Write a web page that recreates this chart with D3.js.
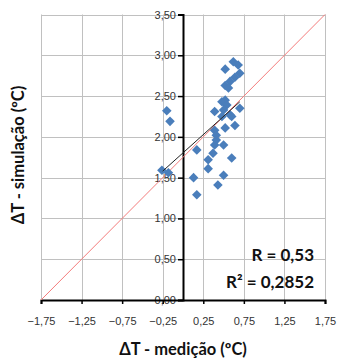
<!DOCTYPE html>
<html>
<head>
<meta charset="utf-8">
<script src="https://cdn.jsdelivr.net/npm/d3@7"></script>
<style>
  html, body { margin: 0; padding: 0; background: #fff; }
  svg { display: block; }
</style>
</head>
<body>
<svg id="chart" width="338" height="358"></svg>
<script>
// Measured vs simulated temperature differences (ºC)
const measured = [
  -0.20, -0.16, -0.26, -0.18, 0.13, 0.17, 0.17, 0.52, 0.62, 0.68,
  0.70, 0.64, 0.58, 0.52, 0.56, 0.52, 0.48, 0.54, 0.39, 0.50,
  0.48, 0.58, 0.70, 0.60, 0.64, 0.52, 0.39, 0.41, 0.41, 0.50,
  0.39, 0.37, 0.60, 0.31, 0.31, 0.50, 0.43
];
const simulated = [
  2.32, 2.19, 1.59, 1.56, 1.50, 1.29, 1.84, 2.83, 2.92, 2.88,
  2.78, 2.73, 2.68, 2.63, 2.60, 2.45, 2.43, 2.39, 2.31, 2.33,
  2.25, 2.27, 2.35, 2.25, 2.14, 2.11, 2.08, 2.02, 1.96, 1.90,
  1.90, 1.80, 1.74, 1.72, 1.61, 1.53, 1.41
];
const xTicks = [-1.75, -1.25, -0.75, -0.25, 0.25, 0.75, 1.25, 1.75];
const yTicks = [0, 0.5, 1.0, 1.5, 2.0, 2.5, 3.0, 3.5];
const identityLine = [[-1.75, 0], [1.75, 3.5]];
const trendLine = [[-0.25, 1.58], [0.70, 2.43]];
const statLines = ["R = 0,53", "R² = 0,2852"];

const fmt = v => d3.format(".2f")(v).replace(".", ",");

const svg = d3.select("#chart");
const x = d3.scaleLinear().domain([-1.75, 1.75]).range([41, 325]);
const y = d3.scaleLinear().domain([0, 3.5]).range([300, 14.5]);

// gridlines
const grid = svg.append("g");
grid.selectAll("line.v").data(xTicks).join("line")
  .attr("x1", d => Math.round(x(d)) + 0.5).attr("x2", d => Math.round(x(d)) + 0.5)
  .attr("y1", y(3.5)).attr("y2", y(0))
  .attr("stroke", "#c0c0c0").attr("stroke-width", 1);
grid.selectAll("line.h").data(yTicks).join("line")
  .attr("y1", d => Math.round(y(d)) + 0.5).attr("y2", d => Math.round(y(d)) + 0.5)
  .attr("x1", x(-1.75)).attr("x2", x(1.75))
  .attr("stroke", "#c0c0c0").attr("stroke-width", 1);

// y axis through x = 0
const yAxis = d3.axisLeft(y).tickValues(yTicks).tickFormat(fmt).tickSize(5).tickPadding(2);
const gy = svg.append("g").attr("transform", `translate(${x(0)},0)`).call(yAxis);
gy.select(".domain").attr("stroke", "#000").attr("stroke-width", 2);
gy.selectAll(".tick line").attr("stroke", "#000").attr("stroke-width", 1.5);
gy.selectAll(".tick text").attr("font-family", "Liberation Sans, Arial, sans-serif")
  .attr("font-size", 11).attr("fill", "#333");

// x axis along y = 0
const xAxis = d3.axisBottom(x).tickValues(xTicks).tickFormat(fmt).tickSize(4).tickPadding(13);
const gx = svg.append("g").attr("transform", `translate(0,${y(0)})`).call(xAxis);
gx.select(".domain").attr("stroke", "#000").attr("stroke-width", 2);
gx.selectAll(".tick line").attr("stroke", "#000").attr("stroke-width", 1.5);
gx.selectAll(".tick text").attr("font-family", "Liberation Sans, Arial, sans-serif")
  .attr("font-size", 11).attr("fill", "#333");

// 1:1 reference line
const line = d3.line().x(d => x(d[0])).y(d => y(d[1]));
svg.append("path").datum(identityLine).attr("d", line)
  .attr("fill", "none").attr("stroke", "#f47c7c").attr("stroke-width", 1);

// points
const sym = d3.symbol().type(d3.symbolSquare).size(46);
svg.append("g").selectAll("path").data(measured.map((m, i) => [m, simulated[i]])).join("path")
  .attr("d", sym)
  .attr("transform", d => `translate(${x(d[0])},${y(d[1])}) rotate(45)`)
  .attr("fill", "#4a7ebb");

// linear trend
svg.append("path").datum(trendLine).attr("d", line)
  .attr("fill", "none").attr("stroke", "#222").attr("stroke-width", 1);

// statistics
svg.append("g").selectAll("text").data(statLines).join("text")
  .attr("x", 314).attr("y", (d, i) => 261 + i * 27)
  .attr("text-anchor", "end")
  .attr("font-family", "Lato, Open Sans, sans-serif").attr("font-weight", "bold")
  .attr("font-size", 17).attr("fill", "#111")
  .text(d => d);

// axis titles
svg.append("text").attr("x", 183).attr("y", 355).attr("text-anchor", "middle")
  .attr("font-family", "Lato, Open Sans, sans-serif").attr("font-weight", "bold")
  .attr("font-size", 16.5).attr("fill", "#111")
  .text("ΔT - medição (ºC)");
svg.append("text").attr("transform", "translate(24,155) rotate(-90)").attr("text-anchor", "middle")
  .attr("font-family", "Lato, Open Sans, sans-serif").attr("font-weight", "bold")
  .attr("font-size", 16.5).attr("fill", "#111")
  .text("ΔT - simulação (ºC)");
</script>
</body>
</html>
